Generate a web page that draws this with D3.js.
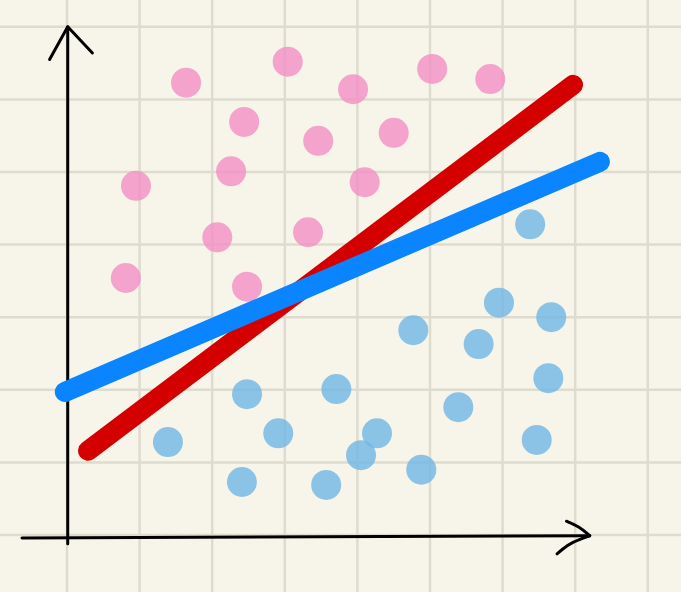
<!DOCTYPE html>
<html>
<head>
<meta charset="utf-8">
<script src="https://cdn.jsdelivr.net/npm/d3@7"></script>
<style>
  html, body { margin: 0; padding: 0; background: #f7f5e9; }
  svg { display: block; }
</style>
</head>
<body>
<div id="chart"></div>
<script>
// Data in grid units (one grid cell = 1 unit)
const pinkX = [1.64, 3.04, 3.94, 5.03, 5.83, 2.44, 3.46, 4.50, 0.95, 2.26, 4.10, 2.07, 3.32, 0.81, 2.48];
const pinkY = [6.23, 6.52, 6.14, 6.42, 6.28, 5.69, 5.43, 5.54, 4.81, 5.01, 4.86, 4.10, 4.17, 3.54, 3.42];
const blueX = [6.38, 5.95, 6.67, 4.77, 5.67, 6.63, 2.48, 3.71, 5.39, 1.39, 2.91, 4.27, 4.05, 6.47, 4.88, 2.41, 3.57];
const blueY = [4.28, 3.20, 3.00, 2.82, 2.63, 2.16, 1.94, 2.01, 1.76, 1.28, 1.40, 1.40, 1.10, 1.31, 0.90, 0.73, 0.69];
const redLineX = [0.29, 6.97];
const redLineY = [1.16, 6.20];
const blueLineX = [-0.03, 7.34];
const blueLineY = [1.97, 5.14];
const gridX = [0, 1, 2, 3, 4, 5, 6, 7, 8];
const gridY = [0, 1, 2, 3, 4, 5, 6, 7];

const W = 681, H = 592;
const svg = d3.select("#chart").append("svg").attr("width", W).attr("height", H);
svg.append("rect").attr("width", W).attr("height", H).attr("fill", "#f7f5e9");

const x = d3.scaleLinear().domain([0, 8]).range([67, 647.8]);
const y = d3.scaleLinear().domain([0, 7]).range([535, 26.8]);

// grid
svg.append("g").selectAll("line").data(gridX).join("line")
  .attr("x1", d => x(d)).attr("x2", d => x(d)).attr("y1", 0).attr("y2", H)
  .attr("stroke", "#dedbcf").attr("stroke-width", 2.5);
svg.append("g").selectAll("line").data(gridY).join("line")
  .attr("y1", d => y(d)).attr("y2", d => y(d)).attr("x1", 0).attr("x2", W)
  .attr("stroke", "#dedbcf").attr("stroke-width", 2.5);

// axes (hand-drawn style)
const ax = svg.append("g").attr("fill", "none").attr("stroke", "#000")
  .attr("stroke-width", 3).attr("stroke-linecap", "round").attr("stroke-linejoin", "round");
const line = d3.line().x(d => x(d[0])).y(d => y(d[1]));
ax.append("path").attr("d", line([[0.01, -0.12], [0.01, 7.0]]));
ax.append("path").attr("d", line([[-0.24, 7 - 0.45], [0.01, 7.0], [0.35, 7 - 0.36]]));
ax.append("path").attr("d", line([[-0.62, -0.04], [7.2, -0.01]]));
ax.append("path").attr("d", d3.line().curve(d3.curveBasis).x(d => x(d[0])).y(d => y(d[1]))(
  [[6.88, 0.19], [7.05, 0.12], [7.2, -0.01]]));
ax.append("path").attr("d", d3.line().curve(d3.curveBasis).x(d => x(d[0])).y(d => y(d[1]))(
  [[7.2, -0.01], [6.95, -0.1], [6.82, -0.2], [6.75, -0.26]]));

// points
svg.append("g").selectAll("circle").data(pinkX.map((v, i) => [v, pinkY[i]])).join("circle")
  .attr("cx", d => x(d[0])).attr("cy", d => y(d[1])).attr("r", 15)
  .attr("fill", "#f38ec4").attr("fill-opacity", 0.8);
svg.append("g").selectAll("circle").data(blueX.map((v, i) => [v, blueY[i]])).join("circle")
  .attr("cx", d => x(d[0])).attr("cy", d => y(d[1])).attr("r", 15)
  .attr("fill", "#6fb6e6").attr("fill-opacity", 0.8);

// trend lines
svg.append("path").attr("d", line(redLineX.map((v, i) => [v, redLineY[i]])))
  .attr("stroke", "#d40000").attr("stroke-width", 20).attr("stroke-linecap", "round").attr("fill", "none");
svg.append("path").attr("d", line(blueLineX.map((v, i) => [v, blueLineY[i]])))
  .attr("stroke", "#0a84ff").attr("stroke-width", 20).attr("stroke-linecap", "round").attr("fill", "none");
</script>
</body>
</html>
